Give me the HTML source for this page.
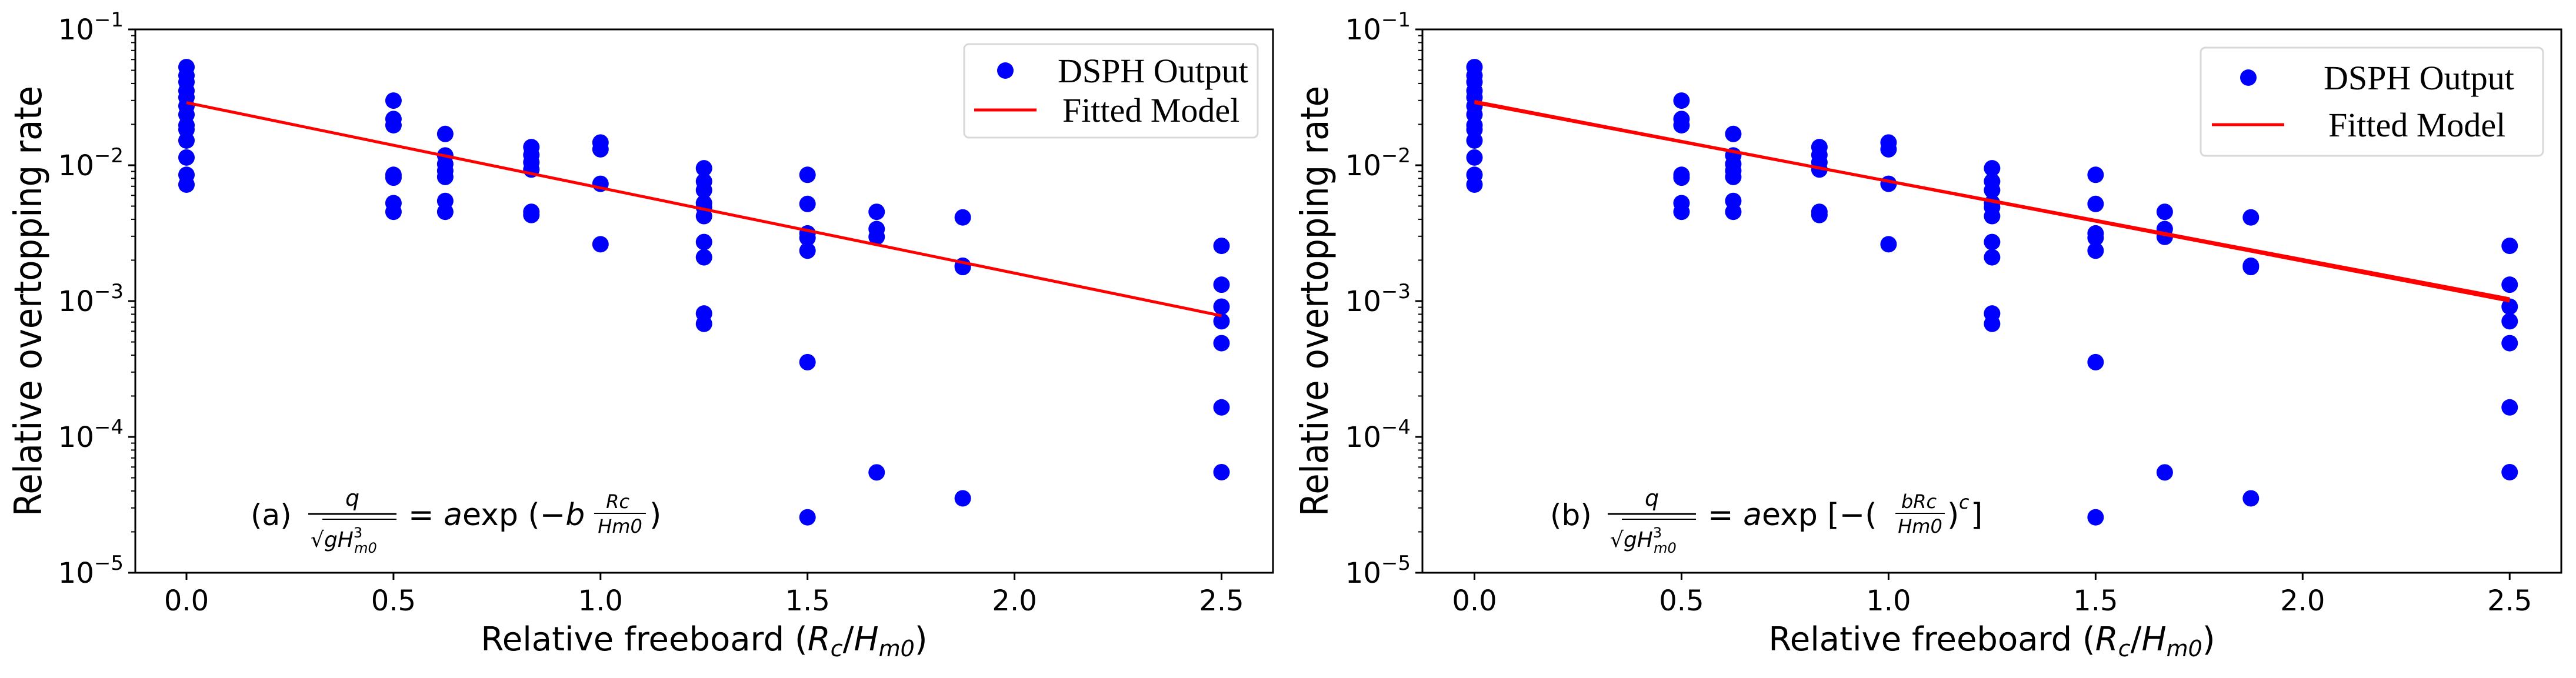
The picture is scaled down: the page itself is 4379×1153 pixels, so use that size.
<!DOCTYPE html>
<html><head><meta charset="utf-8"><style>
html,body{margin:0;padding:0;background:#fff;}
svg{display:block;}
text{font-family:"DejaVu Sans","Liberation Sans",sans-serif;fill:#000;}
.leg{font-family:"Liberation Serif",serif;font-size:58px;}
</style></head><body>
<svg id="fig" width="4379" height="1153" viewBox="0 0 4379 1153" xmlns="http://www.w3.org/2000/svg">
<rect width="4379" height="1153" fill="#fff"/>
</svg>
<script>
// ---- data ----
const xCats = [0, 0.5, 0.625, 0.833, 1.0, 1.25, 1.5, 1.667, 1.875, 2.5];
const yVals0 = [0.0528,0.0457,0.041,0.0353,0.0316,0.0273,0.0236,0.0197,0.0183,0.0152,0.0114,0.0085,0.0072];
const yVals05 = [0.0299,0.0219,0.0197,0.0085,0.0081,0.00526,0.00454];
const yVals0625 = [0.017,0.0118,0.0102,0.0091,0.0082,0.00546,0.00454];
const yVals0833 = [0.0136,0.0119,0.0105,0.0093,0.00454,0.0043];
const yVals10 = [0.0147,0.0131,0.0073,0.00262];
const yVals125 = [0.0095,0.0076,0.00655,0.00526,0.0049,0.00422,0.00272,0.0021,0.00081,0.00068];
const yVals15 = [0.0085,0.00519,0.00315,0.00292,0.00235,0.000355,0.0000256];
const yVals1667 = [0.00454,0.00339,0.00297,0.0000548];
const yVals1875 = [0.00413,0.00182,0.00178,0.0000353];
const yVals25 = [0.00255,0.00132,0.00091,0.00071,0.00049,0.000165,0.000055];
const fitX = [0, 2.5];
const fitA = [0.0289, 0.00078];
const fitB = [0.0289, 0.00104];
const fitB2 = [0.0295, 0.00100];
const xTicks = [0, 0.5, 1.0, 1.5, 2.0, 2.5];
const xTickLabels = ["0.0","0.5","1.0","1.5","2.0","2.5"];
const yTicks = [-1,-2,-3,-4,-5];
const yTickLabels = ["\u22121","\u22122","\u22123","\u22124","\u22125"];
const yGroups = [yVals0,yVals05,yVals0625,yVals0833,yVals10,yVals125,yVals15,yVals1667,yVals1875,yVals25];

const NS = "http://www.w3.org/2000/svg";
const svg = document.getElementById('fig');
function mk(tag, attrs, parent, txt){
  const e = document.createElementNS(NS, tag);
  for (const k in attrs) e.setAttribute(k, attrs[k]);
  if (txt !== undefined) e.textContent = txt;
  (parent||svg).appendChild(e);
  return e;
}
const TOP=50, BOT=974;
function panel(P){
  const g = mk('g', {});
  
  
  const xs = v => P.x0 + v*P.unit;
  const ys = v => TOP + (-1 - Math.log10(v)) * (BOT-TOP)/4;
  // frame
  const fr = mk('rect', {x:P.left, y:TOP, width:P.right-P.left, height:BOT-TOP, fill:'none', stroke:'#000', 'stroke-width':3}, g);
  
  
  // y ticks
  yTicks.forEach((t,i)=>{
    const y = ys(Math.pow(10,t));
    mk('line',{x1:P.left-12,x2:P.left,y1:y,y2:y,stroke:'#000','stroke-width':3},g);
    const tx = mk('text',{x:P.left-20,y:y+17,'font-size':48,'text-anchor':'end'},g);
    
    
    const t1 = mk('tspan',{},tx,'10');
    const t2 = mk('tspan',{dy:-22,'font-size':34},tx,yTickLabels[i]);
    if (t > -5) for (let m=2;m<=9;m++){
      const ym = ys(m*Math.pow(10,t-1));
      mk('line',{x1:P.left-7,x2:P.left,y1:ym,y2:ym,stroke:'#000','stroke-width':2},g);
    }
  });
  // x ticks
  xTicks.forEach((t,i)=>{
    const x = xs(t);
    mk('line',{x1:x,x2:x,y1:BOT,y2:BOT+12,stroke:'#000','stroke-width':3},g);
    const tx = mk('text',{x:x,y:BOT+64,'font-size':48,'text-anchor':'middle'},g,xTickLabels[i]);
    
    
  });
  // points
  yGroups.forEach((grp,i)=>{
    grp.forEach(v=>{
      const c = mk('ellipse',{cx:xs(xCats[i]),cy:ys(v),rx:14,ry:14,fill:'#0000ff'},g);
      
      
    });
  });
  // fit lines
  P.fits.forEach(f=>{
    const l = mk('line',{x1:xs(fitX[0]),y1:ys(f[0]),x2:xs(fitX[1]),y2:ys(f[1]),stroke:'#ff0000','stroke-width':5},g);
    
    
  });
  // axis titles
  const yt = mk('text',{x:0,y:0,'font-size':64,'text-anchor':'middle',transform:`translate(${P.ytx},512) rotate(-90)`,textLength:732,lengthAdjust:'spacingAndGlyphs'},g,'Relative overtopping rate');
  
  
  const xt = mk('text',{x:(P.left+P.right)/2,y:1106,'font-size':56,'text-anchor':'middle'},g);
  
  
  mk('tspan',{},xt,'Relative freeboard (');
  mk('tspan',{'font-style':'italic'},xt,'R');
  mk('tspan',{'font-style':'italic','font-size':38,dy:10},xt,'c');
  mk('tspan',{dy:-10},xt,'/');
  mk('tspan',{'font-style':'italic'},xt,'H');
  mk('tspan',{'font-style':'italic','font-size':38,dy:10},xt,'m0');
  mk('tspan',{dy:-10},xt,')');
  // legend
  const L = P.leg;
  const lg = mk('g',{},g);
  
  
  mk('rect',{x:L.x,y:L.y,width:L.w,height:L.h,rx:8,fill:'#fff',stroke:'#d8d8d8','stroke-width':3},lg);
  mk('ellipse',{cx:L.dot,cy:L.dy,rx:14,ry:14,fill:'#0000ff'},lg);
  const t1 = mk('text',{x:L.tx,y:L.dy+20,class:'leg'},lg,'DSPH Output');
  
  
  mk('line',{x1:L.l1,x2:L.l2,y1:L.ly,y2:L.ly,stroke:'#ff0000','stroke-width':5},lg);
  const t2 = mk('text',{x:L.tx+8,y:L.ly+20,class:'leg'},lg,'Fitted Model');
  
  
  return g;
}
const gA = panel({name:'panel-a',left:230,right:2164,x0:317,unit:703.8,ytx:70,fits:[fitA],
  leg:{x:1639,y:75,w:499,h:159,dot:1709,dy:120,l1:1656,l2:1762,ly:187,tx:1798}});
const gB = panel({name:'panel-b',left:2418,right:4354,x0:2506.5,unit:703.9,ytx:2257,fits:[fitB,fitB2],
  leg:{x:3741,y:81,w:582,h:184,dot:3822,dy:132,l1:3760,l2:3883,ly:212,tx:3950}});

// equations
function eqA(){
  const g = mk('g',{});
  
  
  mk('text',{x:426,y:893,'font-size':50},g,'(a)');
  mk('text',{x:599,y:860,'font-size':38,'font-style':'italic','text-anchor':'middle'},g,'q');
  mk('line',{x1:524,x2:674,y1:874,y2:874,stroke:'#000','stroke-width':3},g);
  const d = mk('text',{x:528,y:930,'font-size':36},g);
  mk('tspan',{},d,'\u221A');
  mk('tspan',{'font-style':'italic'},d,'gH');
  mk('tspan',{'font-size':24,dy:-16},d,'3');
  mk('tspan',{'font-size':24,'font-style':'italic',dx:-14,dy:26},d,'m0');
  mk('line',{x1:548,x2:674,y1:883,y2:883,stroke:'#000','stroke-width':2},g);
  const r = mk('text',{x:694,y:893,'font-size':52},g);
  mk('tspan',{},r,'= ');
  mk('tspan',{'font-style':'italic'},r,'a');
  mk('tspan',{},r,'exp (\u2212');
  mk('tspan',{'font-style':'italic'},r,'b');
  mk('text',{x:1050,y:864,'font-size':32,'font-style':'italic','text-anchor':'middle'},g,'Rc');
  mk('line',{x1:1010,x2:1098,y1:873,y2:873,stroke:'#000','stroke-width':2},g);
  mk('text',{x:1054,y:906,'font-size':32,'font-style':'italic','text-anchor':'middle'},g,'Hm0');
  mk('text',{x:1104,y:893,'font-size':52},g,')');
}
function eqB(){
  const g = mk('g',{});
  
  
  mk('text',{x:2635,y:893,'font-size':50},g,'(b)');
  mk('text',{x:2808,y:860,'font-size':38,'font-style':'italic','text-anchor':'middle'},g,'q');
  mk('line',{x1:2733,x2:2883,y1:874,y2:874,stroke:'#000','stroke-width':3},g);
  const d = mk('text',{x:2737,y:930,'font-size':36},g);
  mk('tspan',{},d,'\u221A');
  mk('tspan',{'font-style':'italic'},d,'gH');
  mk('tspan',{'font-size':24,dy:-16},d,'3');
  mk('tspan',{'font-size':24,'font-style':'italic',dx:-14,dy:26},d,'m0');
  mk('line',{x1:2757,x2:2883,y1:883,y2:883,stroke:'#000','stroke-width':2},g);
  const r = mk('text',{x:2903,y:893,'font-size':52},g);
  mk('tspan',{},r,'= ');
  mk('tspan',{'font-style':'italic'},r,'a');
  mk('tspan',{},r,'exp [\u2212(');
  mk('text',{x:3262,y:864,'font-size':32,'font-style':'italic','text-anchor':'middle'},g,'bRc');
  mk('line',{x1:3222,x2:3306,y1:873,y2:873,stroke:'#000','stroke-width':2},g);
  mk('text',{x:3264,y:906,'font-size':32,'font-style':'italic','text-anchor':'middle'},g,'Hm0');
  const e = mk('text',{x:3310,y:893,'font-size':52},g,')');
  mk('text',{x:3330,y:865,'font-size':32,'font-style':'italic'},g,'c');
  mk('text',{x:3350,y:893,'font-size':52},g,']');
}
eqA(); eqB();
</script>
</body></html>
